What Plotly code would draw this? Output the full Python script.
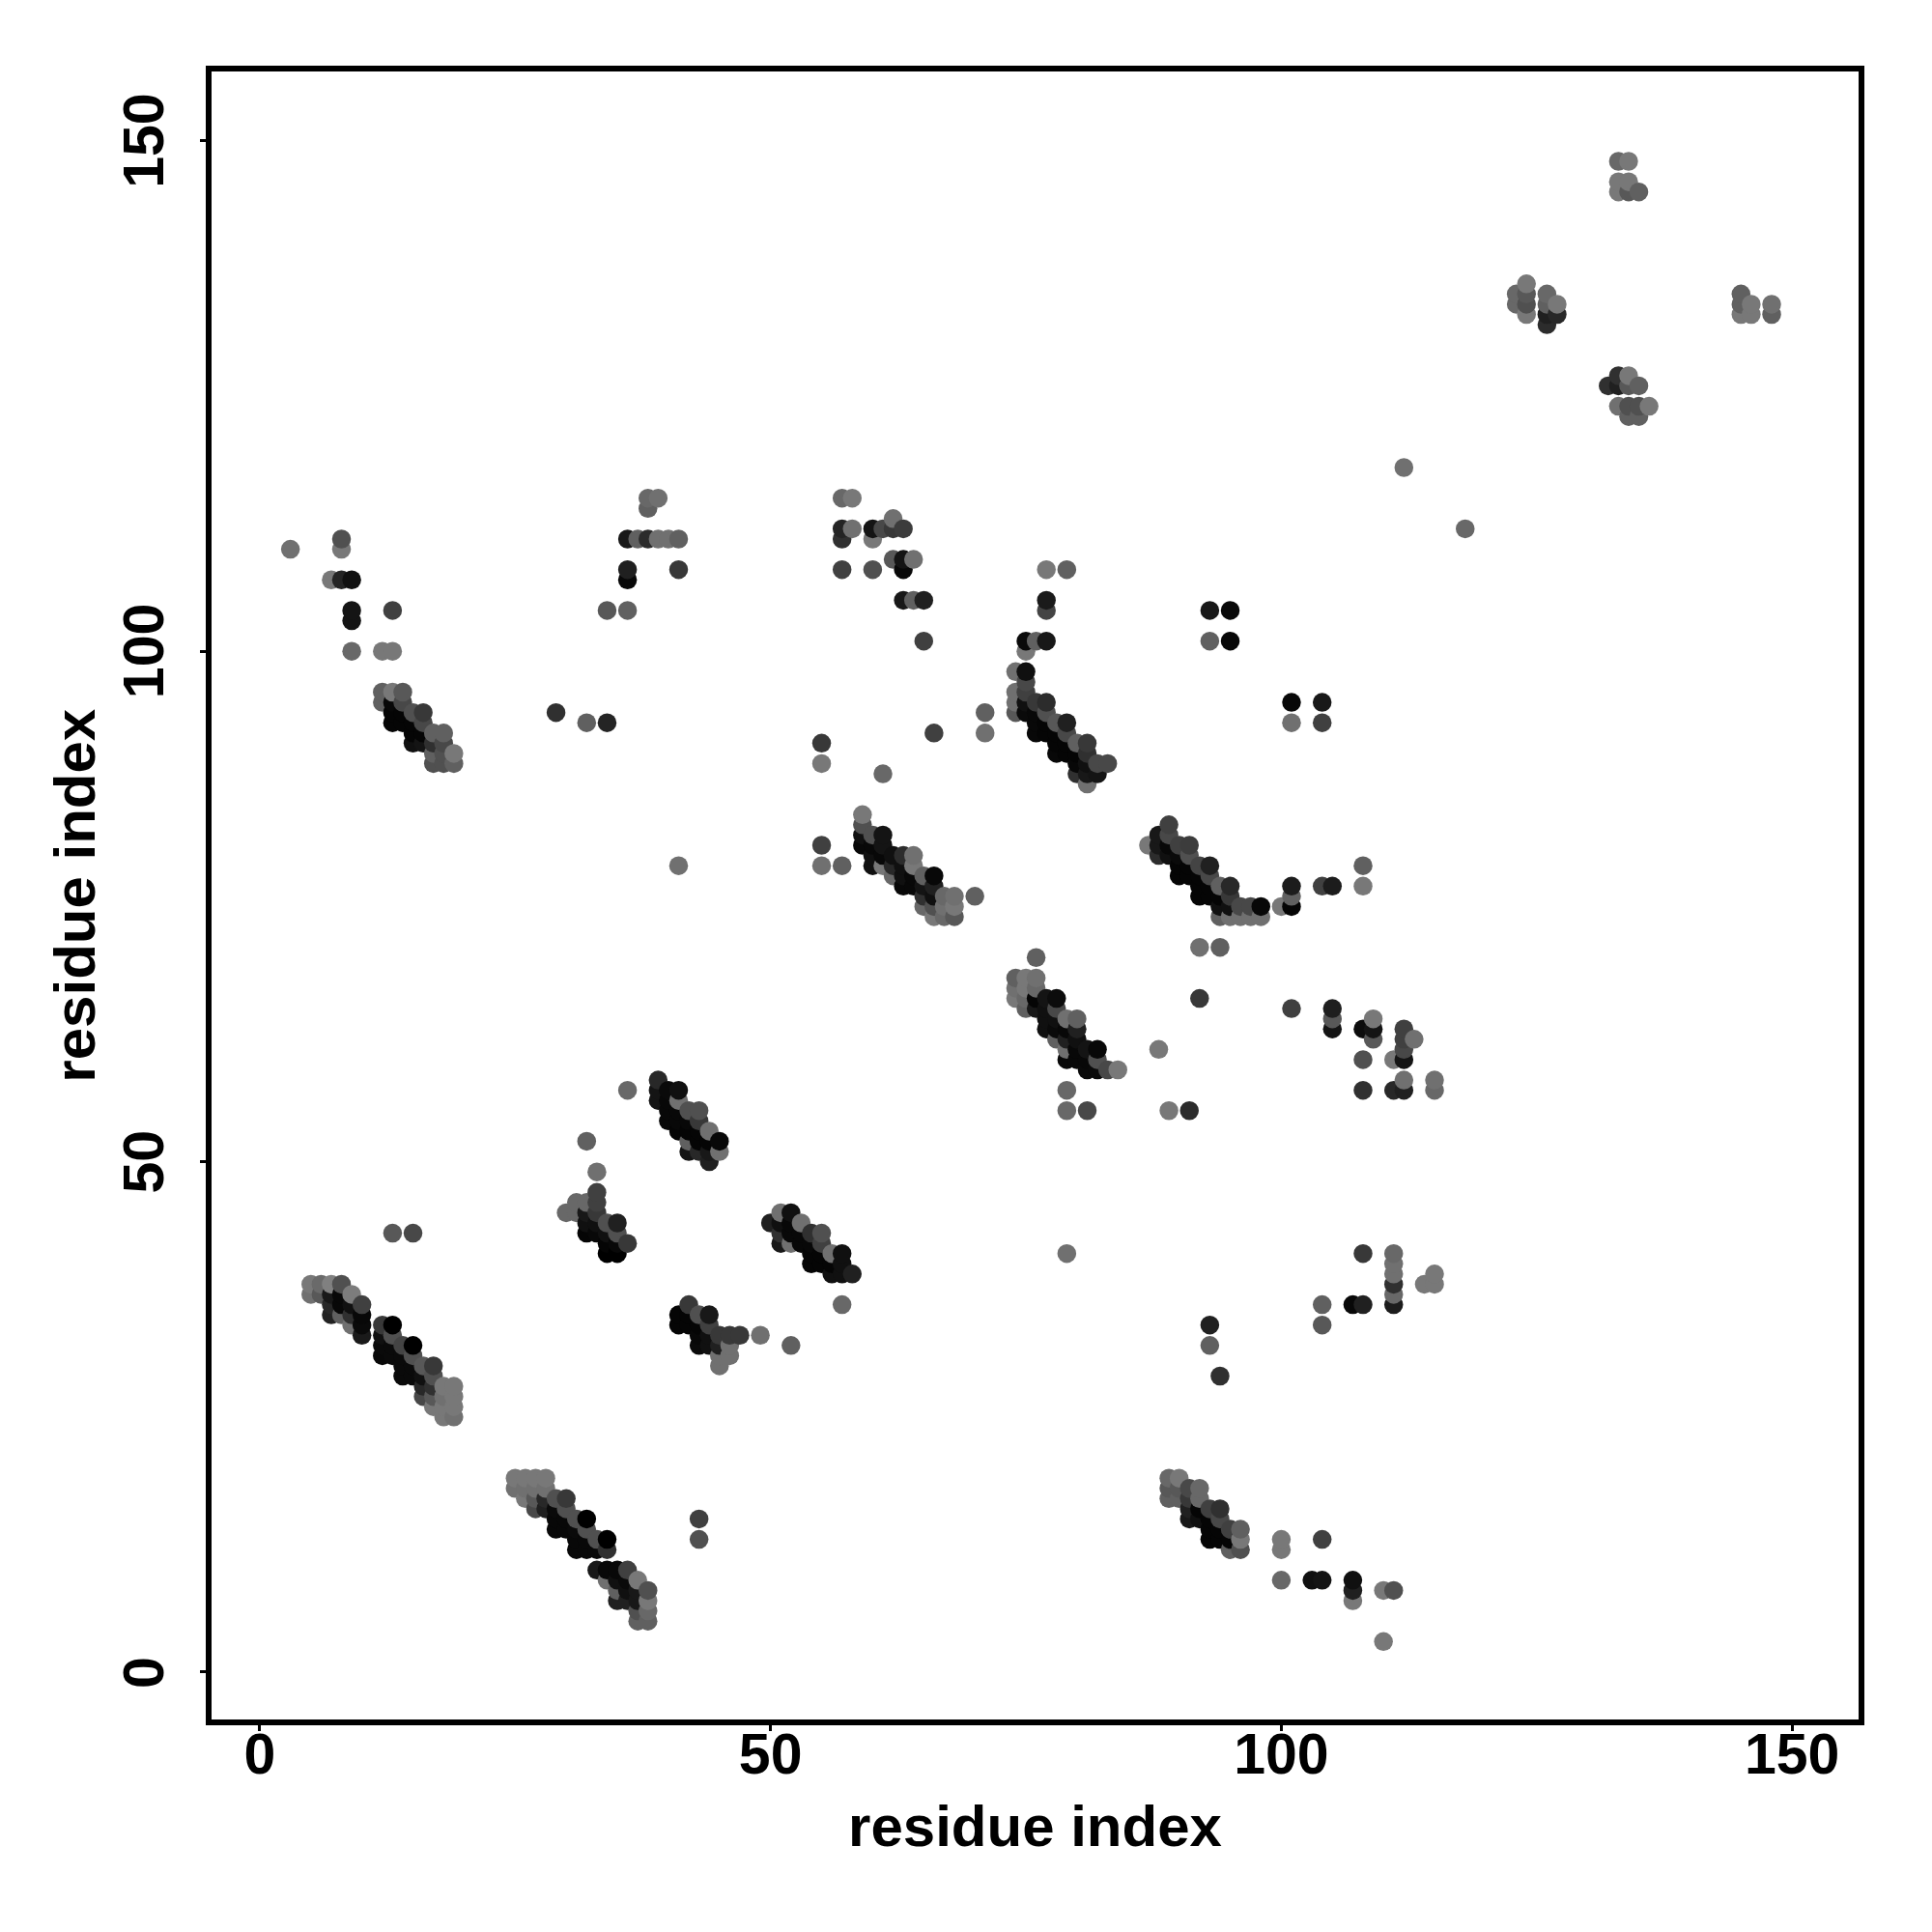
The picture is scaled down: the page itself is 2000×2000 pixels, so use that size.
import plotly.graph_objects as go

# each contact: (residue x, residue y, grey level 0-255)
band_a = [(5,38,0x78),(6,38,0x6a),(7,38,0x80),(8,38,0x50),(5,37,0x70),(6,37,0x58),(7,37,0x18),(8,37,0x08),(9,37,0x7c),
          (7,36,0x28),(8,36,0x08),(9,36,0x10),(10,36,0x40),(7,35,0x22),(8,35,0x60),(9,35,0x30),(10,35,0x08),(9,34,0x70),(10,34,0x0a),(10,33,0x1a),
          (12,34,0x38),(13,34,0x00),(12,33,0x10),(13,33,0x50),(12,32,0x0a),(13,32,0x0a),(14,32,0x44),(15,32,0x00),
          (12,31,0x08),(13,31,0x0a),(14,31,0x0a),(15,31,0x50),(14,30,0x0a),(15,30,0x0a),(16,30,0x58),(17,30,0x38),
          (14,29,0x0a),(15,29,0x0a),(16,29,0x10),(17,29,0x50),(16,28,0x28),(17,28,0x30),(18,28,0x78),(19,28,0x78),
          (16,27,0x48),(17,27,0x58),(18,27,0x70),(19,27,0x78),(17,26,0x78),(18,26,0x78),(19,26,0x78),(18,25,0x78),(19,25,0x70)]
band_b = [(25,19,0x78),(26,19,0x78),(27,19,0x78),(28,19,0x78),(25,18,0x70),(26,18,0x70),(27,18,0x70),(28,18,0x70),
          (26,17,0x78),(27,17,0x58),(28,17,0x28),(29,17,0x50),(30,17,0x38),(27,16,0x48),(28,16,0x20),(29,16,0x0a),(30,16,0x50),
          (29,15,0x08),(30,15,0x08),(31,15,0x50),(32,15,0x00),(29,14,0x08),(30,14,0x08),(31,14,0x0a),(32,14,0x50),
          (31,13,0x08),(32,13,0x08),(33,13,0x50),(34,13,0x00),(31,12,0x08),(32,12,0x08),(33,12,0x08),(34,12,0x30),
          (33,10,0x18),(34,10,0x08),(35,10,0x08),(36,10,0x40),(34,9,0x70),(35,9,0x10),(36,9,0x0a),(37,9,0x78),
          (35,8,0x60),(36,8,0x10),(37,8,0x18),(38,8,0x50),(35,7,0x20),(36,7,0x20),(37,7,0x18),(38,7,0x78),
          (37,6,0x50),(38,6,0x68),(37,5,0x60),(38,5,0x60),(43,15,0x40),(43,13,0x50),(13,43,0x58),(15,43,0x48)]
band_c = [(33,47,0x40),(31,46,0x68),(32,46,0x68),(33,46,0x40),(30,45,0x68),(31,45,0x68),(32,45,0x18),(33,45,0x38),
          (32,44,0x10),(33,44,0x10),(34,44,0x50),(35,44,0x20),(32,43,0x05),(33,43,0x08),(34,43,0x10),(35,43,0x50),
          (34,42,0x05),(35,42,0x08),(36,42,0x38),(34,41,0x00),(35,41,0x00),(36,57,0x68),(32,52,0x60),(33,49,0x70)]
band_d = [(39,58,0x28),(39,57,0x14),(40,57,0x0a),(41,57,0x10),(39,56,0x14),(40,56,0x08),(41,56,0x70),
          (40,55,0x08),(41,55,0x08),(42,55,0x50),(43,55,0x50),(40,54,0x08),(41,54,0x08),(42,54,0x08),(43,54,0x38),
          (41,53,0x05),(42,53,0x05),(43,53,0x05),(44,53,0x70),(42,52,0x60),(43,52,0x05),(44,52,0x05),(45,52,0x08),
          (42,51,0x14),(43,51,0x28),(44,51,0x18),(45,51,0x70),(44,50,0x20)]
band_e = [(42,36,0x38),(41,35,0x05),(42,35,0x05),(43,35,0x50),(44,35,0x18),(41,34,0x05),(42,34,0x05),(43,34,0x05),(44,34,0x40),
          (43,33,0x08),(44,33,0x10),(45,33,0x38),(46,33,0x38),(47,33,0x38),(49,33,0x70),(43,32,0x0a),(44,32,0x10),(45,32,0x20),(46,32,0x70),
          (52,32,0x60),(45,31,0x70),(46,31,0x70),(45,30,0x70)]
band_f = [(51,45,0x70),(52,45,0x10),(50,44,0x20),(51,44,0x10),(52,44,0x08),(53,44,0x70),(51,43,0x30),(52,43,0x08),(53,43,0x08),(54,43,0x30),(55,43,0x50),
          (51,42,0x18),(52,42,0x70),(53,42,0x08),(54,42,0x08),(55,42,0x40),(54,41,0x05),(55,41,0x05),(56,41,0x70),(57,41,0x10),
          (54,40,0x05),(55,40,0x05),(56,40,0x05),(57,40,0x10),(56,39,0x10),(57,39,0x10),(58,39,0x20),(57,36,0x68)]
band_g = [(89,19,0x68),(90,19,0x78),(89,18,0x58),(90,18,0x58),(91,18,0x48),(92,18,0x68),(89,17,0x60),(90,17,0x60),(91,17,0x38),(92,17,0x68),
          (91,16,0x20),(92,16,0x05),(93,16,0x40),(94,16,0x30),(91,15,0x18),(92,15,0x10),(93,15,0x05),(94,15,0x48),
          (93,14,0x05),(94,14,0x05),(95,14,0x40),(96,14,0x60),(93,13,0x05),(94,13,0x05),(95,13,0x05),(96,13,0x78),(95,12,0x60),(96,12,0x50)]
band_h = [(76,70,0x60),(74,68,0x60),(75,68,0x78),(76,68,0x70),(74,67,0x70),(75,67,0x78),(76,67,0x68),(74,66,0x78),(75,66,0x68),(76,66,0x05),(77,66,0x14),(78,66,0x0c),
          (75,65,0x60),(76,65,0x18),(77,65,0x10),(78,65,0x48),(77,64,0x10),(78,64,0x10),(79,64,0x70),(80,64,0x60),
          (77,63,0x10),(78,63,0x0a),(79,63,0x08),(80,63,0x20),(78,62,0x60),(79,62,0x20),(80,62,0x10),
          (79,61,0x70),(80,61,0x08),(81,61,0x14),(82,61,0x08),(79,60,0x08),(80,60,0x08),(81,60,0x08),(82,60,0x50),
          (81,59,0x0a),(82,59,0x0a),(83,59,0x48),(84,59,0x78),(79,57,0x68),(79,55,0x68),(81,55,0x48)]
band_i = [(87,81,0x78),(88,82,0x18),(89,83,0x40),(89,82,0x48),(88,81,0x18),(88,80,0x2c),(89,81,0x08),(89,80,0x10),(90,81,0x40),(91,81,0x3c),(90,80,0x0a),(91,80,0x50),
          (90,79,0x05),(91,79,0x05),(92,79,0x44),(93,79,0x20),(90,78,0x05),(91,78,0x05),(92,78,0x05),(93,78,0x48),(92,77,0x05),(93,77,0x05),(94,77,0x60),(95,77,0x28),
          (92,76,0x05),(93,76,0x05),(94,76,0x05),(95,76,0x38),(94,75,0x10),(95,75,0x10),(96,75,0x48),(97,75,0x48),(98,75,0x08),
          (94,74,0x60),(95,74,0x70),(96,74,0x70),(97,74,0x70),(98,74,0x70),(100,75,0x78),(101,77,0x1c),(101,76,0x60),(101,75,0x05),(104,77,0x40),(105,77,0x1c),(108,79,0x60),(108,77,0x78)]
band_j = [(59,84,0x78),(59,83,0x50),(57,79,0x60),(59,82,0x10),(59,81,0x08),(60,82,0x50),(61,82,0x14),(60,81,0x08),(61,81,0x14),(60,80,0x10),(60,79,0x10),(61,80,0x08),(62,80,0x10),(63,80,0x2c),(64,80,0x70),
          (61,79,0x78),(62,79,0x28),(63,79,0x10),(64,79,0x78),(62,78,0x68),(63,78,0x10),(64,78,0x08),(65,78,0x60),(66,78,0x08),
          (63,77,0x08),(64,77,0x08),(65,77,0x14),(66,77,0x20),(65,76,0x30),(66,76,0x10),(67,76,0x68),(68,76,0x70),(70,76,0x60),
          (65,75,0x68),(66,75,0x50),(67,75,0x70),(68,75,0x78),(66,74,0x78),(67,74,0x68),(68,74,0x58)]
band_k = [(75,101,0x0a),(76,101,0x60),(77,101,0x18),(75,100,0x78),(74,98,0x70),(75,98,0x10),(75,97,0x48),(74,96,0x70),(75,96,0x40),(74,95,0x70),(75,95,0x10),(76,95,0x38),(77,95,0x2c),
          (74,94,0x58),(75,94,0x0a),(76,94,0x08),(77,94,0x50),(76,93,0x08),(77,93,0x05),(78,93,0x58),(79,93,0x20),(76,92,0x08),(77,92,0x05),(78,92,0x05),(79,92,0x48),
          (78,91,0x05),(79,91,0x05),(80,91,0x60),(81,91,0x38),(78,90,0x08),(79,90,0x05),(80,90,0x05),(81,90,0x30),(80,89,0x08),(81,89,0x10),(82,89,0x48),(83,89,0x48),
          (80,88,0x30),(81,88,0x18),(82,88,0x14),(81,87,0x70)]
band_l = [(12,96,0x60),(13,96,0x78),(14,96,0x58),(12,95,0x60),(13,95,0x08),(14,95,0x48),(13,94,0x05),(14,94,0x05),(15,94,0x50),(16,94,0x38),(13,93,0x05),(14,93,0x05),(15,93,0x05),(16,93,0x48),
          (15,92,0x05),(16,92,0x05),(17,92,0x60),(18,92,0x60),(15,91,0x10),(16,91,0x14),(17,91,0x30),(18,91,0x48),(17,90,0x60),(18,90,0x50),(19,90,0x78),(17,89,0x50),(18,89,0x50),(19,89,0x60)]
upper_left = [(3,110,0x70),(8,111,0x50),(8,110,0x78),(7,107,0x78),(8,107,0x24),(9,107,0x10),(9,104,0x14),(9,103,0x14),(13,104,0x40),(9,100,0x68),(12,100,0x78),(13,100,0x78),
              (29,94,0x30),(32,93,0x60),(34,93,0x24),(34,104,0x58),(36,104,0x60),(36,108,0x20),(36,107,0x08),(41,108,0x38),
              (36,111,0x18),(37,111,0x60),(38,111,0x2c),(39,111,0x70),(40,111,0x70),(41,111,0x60),(38,115,0x68),(39,115,0x70),(38,114,0x60),(41,79,0x70)]
upper_mid = [(57,115,0x68),(58,115,0x78),(57,112,0x24),(57,111,0x30),(58,112,0x70),(60,112,0x14),(60,111,0x78),(61,112,0x48),(62,113,0x70),(62,112,0x38),(63,112,0x3c),
             (57,108,0x40),(60,108,0x50),(62,109,0x58),(63,109,0x14),(63,108,0x08),(64,109,0x70),(63,105,0x18),(64,105,0x60),(65,105,0x20),(65,101,0x40),
             (77,108,0x78),(79,108,0x60),(77,105,0x1a),(77,104,0x44),(66,92,0x40),(71,94,0x60),(71,92,0x70),(55,91,0x38),(55,89,0x78),(61,88,0x68),(55,81,0x40),(55,79,0x70)]
mid_right = [(93,104,0x18),(95,104,0x08),(93,101,0x60),(95,101,0x08),(101,95,0x08),(104,95,0x18),(101,93,0x70),(104,93,0x40),(112,118,0x70),(118,112,0x68),
             (92,71,0x70),(94,71,0x60),(92,66,0x38),(88,61,0x78),(89,55,0x78),(91,55,0x2c),(101,65,0x40),(105,65,0x1e),(105,64,0x58),(105,63,0x14),
             (108,63,0x0c),(109,63,0x14),(109,64,0x78),(109,62,0x58),(112,63,0x40),(112,62,0x40),(113,62,0x70),(112,61,0x48),(111,60,0x78),(112,60,0x14),(108,60,0x50),
             (108,57,0x30),(111,57,0x28),(112,57,0x20),(112,58,0x70),(115,58,0x70),(115,57,0x68)]
lower_right = [(79,41,0x70),(93,34,0x20),(93,32,0x60),(94,29,0x30),(108,41,0x38),(111,41,0x68),(111,40,0x70),(111,39,0x70),(111,38,0x30),(111,37,0x68),(111,36,0x1c),
               (114,38,0x78),(115,38,0x78),(115,39,0x78),(104,36,0x60),(104,34,0x58),(107,36,0x08),(108,36,0x20),(100,13,0x78),(100,12,0x78),(104,13,0x40),(100,9,0x68),
               (103,9,0x10),(104,9,0x14),(107,9,0x10),(107,8,0x20),(107,7,0x78),(110,8,0x78),(111,8,0x50),(110,3,0x78)]
top_right = [(133,148,0x68),(134,148,0x78),(133,146,0x78),(134,146,0x78),(133,145,0x78),(134,145,0x58),(135,145,0x60),
             (124,136,0x78),(123,135,0x68),(124,135,0x58),(123,134,0x68),(124,134,0x50),(124,133,0x78),(126,135,0x68),(126,134,0x60),(127,134,0x78),(126,133,0x20),(127,133,0x28),(126,132,0x2c),
             (132,126,0x30),(133,126,0x20),(133,127,0x30),(134,127,0x78),(134,126,0x58),(135,126,0x60),(133,124,0x70),(134,124,0x50),(135,124,0x50),(136,124,0x78),(134,123,0x60),(135,123,0x60),
             (145,135,0x60),(145,134,0x60),(145,133,0x78),(146,134,0x78),(146,133,0x78),(148,134,0x70),(148,133,0x60)]

x_ticks = [0, 50, 100, 150]
y_ticks = [0, 50, 100, 150]
axis_title = "residue index"

contacts = sorted(band_a + band_b + band_c + band_d + band_e + band_f + band_g + band_h + band_i + band_j + band_k
                  + band_l + upper_left + upper_mid + mid_right + lower_right + top_right, key=lambda p: (p[0], p[1]))

FONT = "Liberation Sans"
fig = go.Figure(go.Scatter(
    x=[p[0] for p in contacts], y=[p[1] for p in contacts], mode="markers",
    marker=dict(size=19.5, line_width=0, color=[f"rgb({p[2]},{p[2]},{p[2]})" for p in contacts]),
    hoverinfo="skip", cliponaxis=False))

axis_common = dict(showgrid=False, zeroline=False, showline=True, mirror=True, linecolor="black", linewidth=6,
                   ticks="outside", ticklen=6, tickwidth=3, tickcolor="black", tickmode="array")
fig.update_xaxes(range=[-4.72, 156.51], tickvals=x_ticks, ticktext=[str(v) for v in x_ticks], ticklabelstandoff=-27,
                 tickfont=dict(family=FONT, size=59, color="black", weight="bold"),
                 title=dict(text=f"<b>{axis_title}</b>", font=dict(family=FONT, size=60, color="black"), standoff=23), **axis_common)
fig.update_yaxes(range=[-4.64, 156.8], tickvals=y_ticks, showticklabels=False, **axis_common)

for v in y_ticks:
    fig.add_annotation(text=f"<b>{v}</b>", xref="paper", yref="y", x=-0.0411, y=v, showarrow=False, textangle=-90,
                       xanchor="center", yanchor="middle", font=dict(family=FONT, size=59, color="black"))
fig.add_annotation(text=f"<b>{axis_title}</b>", xref="paper", yref="paper", x=-0.0835, y=0.5, showarrow=False, textangle=-90,
                   xanchor="center", yanchor="middle", font=dict(family=FONT, size=60, color="black"))

fig.update_layout(width=2000, height=2000, autosize=False, showlegend=False, plot_bgcolor="white", paper_bgcolor="white",
                  margin=dict(l=211, r=84, t=66, b=228, autoexpand=False))
fig.write_html("out.html")
